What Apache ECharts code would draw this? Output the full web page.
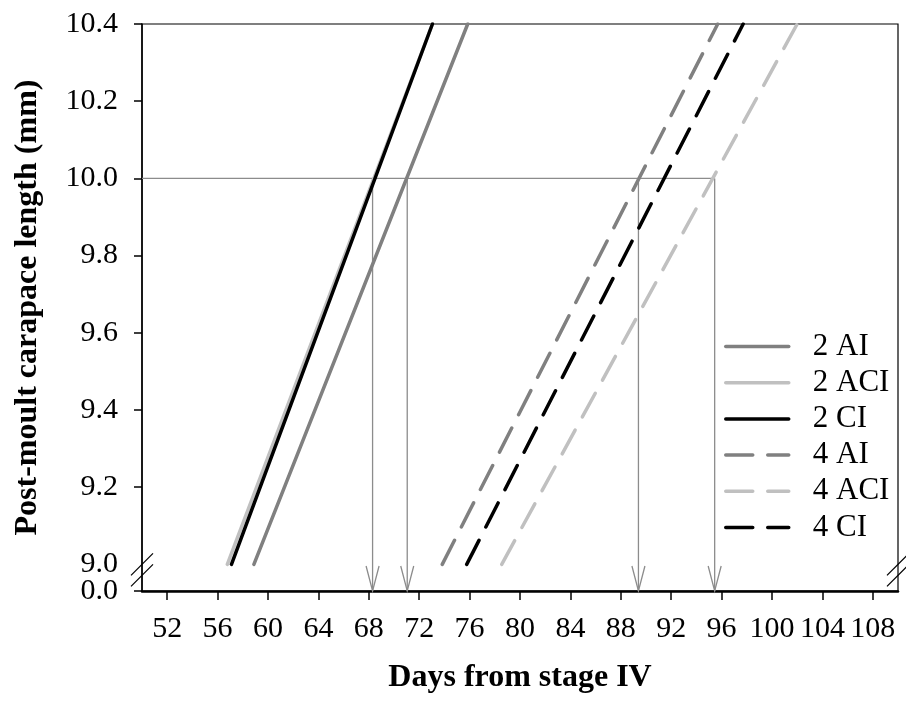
<!DOCTYPE html>
<html>
<head>
<meta charset="utf-8">
<script src="https://cdn.jsdelivr.net/npm/echarts@6/dist/echarts.min.js"></script>
<style>
html,body{margin:0;padding:0;background:#fff;}
#chart{width:906px;height:702px;}
</style>
</head>
<body>
<div id="chart"></div>
<script>
// ---- data ----
const seriesNames = ['2 AI', '2 ACI', '2 CI', '4 AI', '4 ACI', '4 CI'];
const startDay    = [58.88, 56.77, 57.10, 73.83, 78.55, 75.77];   // day at 9.0 mm
const endDay      = [75.85, 73.05, 73.05, 95.69, 102.0, 97.71];   // day at 10.4 mm
const startLength = 9.0;
const endLength   = 10.4;
const guideLength = 10.0;
const crossDays   = [68.3, 71.05, 89.4, 95.45];                    // arrows at 10.0 mm
const xTickValues = [52, 56, 60, 64, 68, 72, 76, 80, 84, 88, 92, 96, 100, 104, 108];
const yTickValues = [9.0, 9.2, 9.4, 9.6, 9.8, 10.0, 10.2, 10.4];
const yTickLabels = ['9.0', '9.2', '9.4', '9.6', '9.8', '10.0', '10.2', '10.4'];
const yBreakLabel = '0.0';

// ---- styles ----
const colors = ['#808080', '#c0c0c0', '#000000', '#808080', '#c0c0c0', '#000000'];
const dashed = [false, false, false, true, true, true];
const xMin = 50, xMax = 110, yMin = 8.931, yMax = 10.4;
const FONT = 'Liberation Serif';
const guideColor = '#8c8c8c';

const lineSeries = seriesNames.map((name, i) => ({
  name: name,
  type: 'line',
  symbol: 'none',
  showSymbol: false,
  data: [[startDay[i], startLength], [endDay[i], endLength]],
  lineStyle: {
    color: colors[i],
    width: 3.5,
    type: dashed[i] ? [27, 15] : 'solid',
    cap: 'round'
  },
  itemStyle: { color: colors[i] },
  z: 3
}));

const guideSeries = {
  name: 'guide',
  type: 'line',
  symbol: 'none',
  silent: true,
  data: [[xMin, guideLength], [Math.max(...crossDays), guideLength]],
  lineStyle: { color: guideColor, width: 1.3 },
  z: 2
};

const arrowSeries = {
  name: 'arrows',
  type: 'custom',
  silent: true,
  z: 2,
  data: crossDays.map(d => [d, guideLength]),
  renderItem: function (params, api) {
    const top = api.coord([api.value(0), api.value(1)]);
    const bot = api.coord([api.value(0), yMin]);
    return {
      type: 'group',
      children: [
        { type: 'line', shape: { x1: top[0], y1: top[1], x2: bot[0], y2: bot[1] },
          style: { stroke: guideColor, lineWidth: 1.3 } },
        { type: 'polyline', shape: { points: [[bot[0] - 6.5, bot[1] - 25], [bot[0], bot[1]], [bot[0] + 6.5, bot[1] - 25]] },
          style: { stroke: guideColor, fill: null, lineWidth: 1.3 } }
      ]
    };
  }
};

const chart = echarts.init(document.getElementById('chart'), null, { renderer: 'canvas' });
const yTickMarks = yTickValues.slice(1);

const labelFont = { fontFamily: FONT, fontSize: 30, color: '#000' };

chart.setOption({
  animation: false,
  backgroundColor: '#fff',
  grid: { left: 142, right: 8, top: 24, bottom: 111, show: true, borderColor: '#000', borderWidth: 1.2, backgroundColor: 'transparent' },
  legend: {
    data: seriesNames,
    orient: 'vertical',
    left: 724,
    top: 331,
    padding: 0,
    itemWidth: 63,
    itemHeight: 14,
    itemGap: 5.2,
    itemStyle: { opacity: 0 },
    lineStyle: { width: 3.5 },
    textStyle: { fontFamily: FONT, fontSize: 31, color: '#000', padding: [0, 0, 0, 19] },
    selectedMode: false
  },
  xAxis: {
    type: 'value',
    min: xMin,
    max: xMax,
    name: 'Days from stage IV',
    nameLocation: 'middle',
    nameGap: 71,
    nameTextStyle: { fontFamily: FONT, fontSize: 32, fontWeight: 'bold', color: '#000' },
    axisLine: { show: true, onZero: false, lineStyle: { color: '#000', width: 2.5 } },
    axisTick: { show: true, inside: false, length: 9, customValues: xTickValues, lineStyle: { color: '#000', width: 1.5 } },
    axisLabel: Object.assign({ customValues: xTickValues, margin: 23, hideOverlap: false }, labelFont),
    splitLine: { show: false }
  },
  yAxis: [{
    type: 'value',
    min: yMin,
    max: yMax,
    name: 'Post-moult carapace length (mm)',
    nameLocation: 'middle',
    nameGap: 98,
    nameTextStyle: { fontFamily: FONT, fontSize: 32, fontWeight: 'bold', color: '#000' },
    axisLine: { show: true, lineStyle: { color: '#000', width: 1.5 } },
    axisTick: { show: true, inside: false, length: 8, customValues: yTickMarks, lineStyle: { color: '#000', width: 1.5 } },
    axisLabel: Object.assign({
      customValues: yTickValues,
      margin: 24,
      hideOverlap: false,
      formatter: function (v) {
        const idx = yTickValues.findIndex(t => Math.abs(t - v) < 1e-6);
        return idx >= 0 ? yTickLabels[idx] : '';
      }
    }, labelFont),
    splitLine: { show: false }
  }, {
    // second left axis only carries the broken-axis "0.0" label and tick
    type: 'value',
    position: 'left',
    min: yMin,
    max: yMax,
    axisLine: { show: false },
    axisTick: { show: true, inside: false, length: 8, customValues: [yMin], lineStyle: { color: '#000', width: 1.5 } },
    axisLabel: Object.assign({
      customValues: [yMin],
      margin: 24,
      hideOverlap: false,
      showMinLabel: true,
      formatter: function () { return yBreakLabel; }
    }, labelFont),
    splitLine: { show: false }
  }],
  series: [guideSeries, arrowSeries].concat(lineSeries)
});

// ---- axis-break marks (double slashes) on left and right edges ----
function drawBreaks() {
  const pLeft = chart.convertToPixel({ gridIndex: 0 }, [xMin, startLength]);
  const pRight = chart.convertToPixel({ gridIndex: 0 }, [xMax, startLength]);
  const els = [];
  [pLeft, pRight].forEach(p => {
    [0, 11].forEach(off => {
      const cx = p[0], cy = p[1] + off;
      els.push({
        type: 'line',
        shape: { x1: cx - 11, y1: cy + 11, x2: cx + 11, y2: cy - 11 },
        style: { stroke: '#000', lineWidth: 1.3 },
        z: 10
      });
    });
  });
  chart.setOption({ graphic: els });
}
drawBreaks();
</script>
</body>
</html>
